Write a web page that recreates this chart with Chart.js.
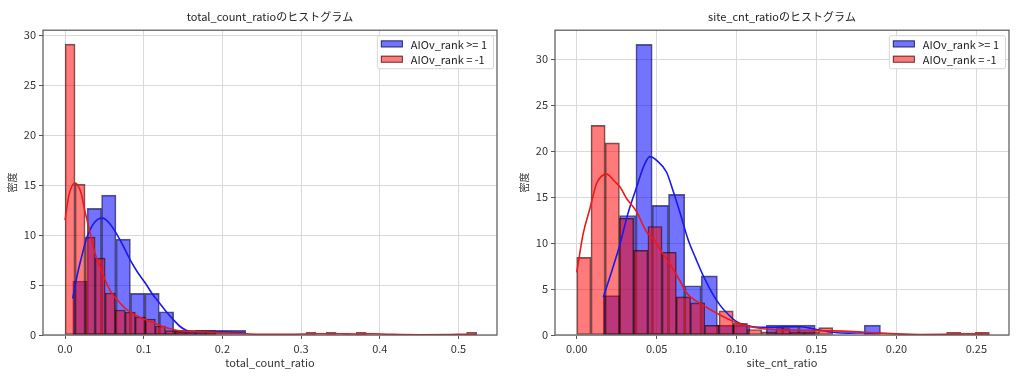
<!DOCTYPE html>
<html><head><meta charset="utf-8">
<script src="https://cdn.jsdelivr.net/npm/chart.js@4"></script>
<style>
html,body{margin:0;padding:0;background:#fff;}
#wrap{position:relative;width:1024px;height:378px;overflow:hidden;}
.c{position:absolute;top:0;width:512px;height:378px;}
</style></head><body>
<div id="wrap">
<div class="c" style="left:0"><canvas id="c1" width="512" height="378"></canvas></div>
<div class="c" style="left:512px"><canvas id="c2" width="512" height="378"></canvas></div>
</div>
<script>
const FONT = "'Noto Sans CJK JP', 'Noto Sans', sans-serif";
const seriesLabels = ['AIOv_rank >= 1', 'AIOv_rank = -1'];
const yLabel = '密度';

// ---- Left chart: total_count_ratio ----
const tcTitle = 'total_count_ratioのヒストグラム';
const tcXLabel = 'total_count_ratio';
const tcXTicks = [0.0, 0.1, 0.2, 0.3, 0.4, 0.5];
const tcYTicks = [0, 5, 10, 15, 20, 25, 30];
const tcBlueStart = 0.0098, tcBlueWidth = 0.01833;
const tcBlueDensity = [5.4, 12.67, 14.0, 9.6, 4.17, 4.17, 2.33, 0.47, 0.47, 0.47, 0.47, 0.47];
const tcRedStart = 0.0, tcRedWidth = 0.01276;
const tcRedDensity = [29.1, 15.1, 9.8, 7.7, 4.2, 2.5, 2.3, 1.8, 1.6, 0.9, 0.44, 0.33, 0.33, 0.44, 0.44,
  0, 0, 0, 0, 0, 0, 0, 0, 0, 0.26, 0, 0.26, 0, 0, 0.26, 0, 0, 0, 0, 0, 0, 0, 0, 0, 0, 0.26];
const tcBlueKdeX = [0.0098, 0.015, 0.02, 0.028, 0.035, 0.042, 0.048, 0.055, 0.065, 0.074, 0.083, 0.092, 0.102, 0.111, 0.12, 0.129, 0.138, 0.147, 0.157, 0.17, 0.185, 0.2, 0.215, 0.23];
const tcBlueKdeY = [3.67, 5.8, 7.5, 9.8, 11.0, 11.6, 11.7, 11.3, 10.2, 8.9, 7.5, 6.3, 5.2, 4.1, 3.2, 2.3, 1.5, 0.8, 0.38, 0.25, 0.3, 0.32, 0.25, 0.18];
const tcRedKdeX = [0, 0.005, 0.0127, 0.02, 0.025, 0.032, 0.038, 0.045, 0.051, 0.057, 0.063, 0.07, 0.076, 0.089, 0.101, 0.114, 0.127, 0.14, 0.152, 0.165, 0.18, 0.2, 0.23, 0.26, 0.29, 0.32, 0.335, 0.35, 0.37, 0.39, 0.41, 0.45, 0.49, 0.51, 0.523];
const tcRedKdeY = [11.5, 14.0, 15.2, 14.3, 12.5, 10.2, 8.2, 6.7, 5.5, 4.5, 3.8, 3.2, 2.7, 2.0, 1.57, 1.17, 0.77, 0.5, 0.38, 0.33, 0.3, 0.22, 0.12, 0.06, 0.08, 0.12, 0.13, 0.12, 0.1, 0.12, 0.08, 0.03, 0.05, 0.08, 0.08];

// ---- Right chart: site_cnt_ratio ----
const scTitle = 'site_cnt_ratioのヒストグラム';
const scXLabel = 'site_cnt_ratio';
const scXTicks = [0.00, 0.05, 0.10, 0.15, 0.20, 0.25];
const scYTicks = [0, 5, 10, 15, 20, 25, 30];
const scBlueStart = 0.0166, scBlueWidth = 0.0102;
const scBlueDensity = [4.28, 13.0, 31.6, 14.1, 15.3, 5.36, 6.43, 1.07, 1.07, 0, 1.07, 1.07, 1.07, 0, 0, 0, 1.07];
const scRedStart = 0.0, scRedWidth = 0.0089;
const scRedDensity = [8.44, 22.8, 20.9, 12.7, 9.2, 11.8, 9.0, 4.15, 3.5, 1.05, 2.62, 1.27, 0.6, 0.35, 0.7, 0.35, 0.35, 0.8,
  0, 0, 0, 0, 0, 0, 0, 0, 0.3, 0, 0.3];
const scBlueKdeX = [0.0166, 0.022, 0.0271, 0.032, 0.0375, 0.042, 0.0458, 0.05, 0.0562, 0.0604, 0.0646, 0.0698, 0.0745, 0.079, 0.0843, 0.0896, 0.095, 0.1, 0.105, 0.11, 0.12, 0.13, 0.14, 0.15, 0.16, 0.17, 0.18, 0.19];
const scBlueKdeY = [4.1, 7.0, 9.9, 13.2, 16.1, 18.4, 19.4, 19.0, 17.7, 15.6, 13.3, 10.3, 8.3, 6.5, 4.7, 3.25, 2.2, 1.45, 1.1, 0.9, 0.83, 0.88, 0.9, 0.6, 0.3, 0.2, 0.22, 0.2];
const scRedKdeX = [0, 0.004, 0.0083, 0.0125, 0.0187, 0.0237, 0.0271, 0.031, 0.0375, 0.0437, 0.0479, 0.0525, 0.0583, 0.0646, 0.0687, 0.079, 0.0896, 0.1, 0.1104, 0.121, 0.13, 0.14, 0.15, 0.16, 0.17, 0.18, 0.19, 0.2, 0.215, 0.23, 0.24, 0.25, 0.258];
const scRedKdeY = [6.8, 11.0, 13.8, 16.5, 17.5, 16.7, 16.1, 14.9, 13.4, 11.2, 10.5, 9.2, 7.7, 5.9, 4.6, 3.25, 2.17, 1.34, 0.85, 0.6, 0.55, 0.52, 0.48, 0.45, 0.4, 0.3, 0.2, 0.12, 0.06, 0.08, 0.12, 0.12, 0.1];

const BLUE_FILL = 'rgba(0,0,255,0.55)', RED_FILL = 'rgba(255,0,0,0.52)';
const EDGE = 'rgba(0,0,0,0.62)';
const BLUE_LINE = 'rgb(25,25,235)', RED_LINE = 'rgb(235,25,25)';

const framePlugin = {
  id: 'frame',
  afterDatasetsDraw(chart) {
    const a = chart.chartArea, ctx = chart.ctx;
    ctx.save();
    ctx.strokeStyle = '#555';
    ctx.lineWidth = 1.2;
    ctx.strokeRect(a.left, a.top, a.right - a.left, a.bottom - a.top);
    ctx.restore();
  }
};

const legendPlugin = {
  id: 'insideLegend',
  afterDraw(chart) {
    const ctx = chart.ctx, a = chart.chartArea;
    const items = chart.data.datasets.filter(d => d.type === 'bar');
    ctx.save();
    ctx.font = '11px ' + FONT;
    const tw = Math.max(...items.map(d => ctx.measureText(d.label).width));
    const patchW = 22, patchH = 7, padL = 4, gap = 8, rowH = 15.3;
    const w = padL + patchW + gap + tw + 6;
    const h = 33;
    const x0 = a.right - 4 - w, y0 = a.top + 5;
    ctx.fillStyle = 'rgba(255,255,255,0.85)';
    ctx.strokeStyle = '#d6d6d6';
    ctx.lineWidth = 1;
    ctx.beginPath();
    ctx.roundRect(x0 + 0.5, y0 + 0.5, w, h, 2);
    ctx.fill();
    ctx.stroke();
    items.forEach((d, i) => {
      const cy = y0 + 8.7 + rowH * i;
      ctx.fillStyle = d.backgroundColor;
      ctx.fillRect(x0 + padL, cy - patchH / 2, patchW, patchH);
      ctx.strokeStyle = d.borderColor;
      ctx.strokeRect(x0 + padL + 0.5, cy - patchH / 2 + 0.5, patchW - 1, patchH - 1);
      ctx.fillStyle = '#222';
      ctx.textBaseline = 'middle';
      ctx.textAlign = 'left';
      ctx.fillText(d.label, x0 + padL + patchW + gap, cy + 0.5);
    });
    ctx.restore();
  }
};

function bins(start, width, vals) {
  return vals.map((v, i) => ({ x: start + (i + 0.5) * width, y: v }));
}
function pts(xs, ys) { return xs.map((x, i) => ({ x, y: ys[i] })); }

function makeChart(id, c) {
  const xs = c.xTicks;
  const step = xs[1] - xs[0];
  const hidden = () => ({ type: 'linear', display: false, min: c.xMin, max: c.xMax, offset: false,
    grid: { display: false, offset: false }, ticks: { display: false } });
  new Chart(document.getElementById(id), {
    type: 'bar',
    data: {
      datasets: [
        { type: 'bar', label: seriesLabels[0], data: bins(c.blueStart, c.blueWidth, c.blueDensity), xAxisID: 'xb', yAxisID: 'y',
          backgroundColor: BLUE_FILL, borderColor: EDGE, borderWidth: 1, borderSkipped: false,
          barPercentage: 1, categoryPercentage: 1, grouped: false, order: 4 },
        { type: 'bar', label: seriesLabels[1], data: bins(c.redStart, c.redWidth, c.redDensity), xAxisID: 'xr', yAxisID: 'y',
          backgroundColor: RED_FILL, borderColor: EDGE, borderWidth: 1, borderSkipped: false,
          barPercentage: 1, categoryPercentage: 1, grouped: false, order: 3 },
        { type: 'line', label: 'kde1', data: pts(c.blueKdeX, c.blueKdeY), xAxisID: 'x', yAxisID: 'y',
          borderColor: BLUE_LINE, borderWidth: 1.6, pointRadius: 0, fill: false, cubicInterpolationMode: 'monotone', order: 2 },
        { type: 'line', label: 'kde2', data: pts(c.redKdeX, c.redKdeY), xAxisID: 'x', yAxisID: 'y',
          borderColor: RED_LINE, borderWidth: 1.6, pointRadius: 0, fill: false, cubicInterpolationMode: 'monotone', order: 1 }
      ]
    },
    options: {
      responsive: false, animation: false, devicePixelRatio: 1,
      layout: { padding: { left: 0, right: 15, top: 0, bottom: 0 } },
      plugins: {
        legend: { display: false },
        tooltip: { enabled: false },
        title: { display: true, text: c.title, fullSize: false, color: '#222',
          font: { family: FONT, size: 11, weight: 'normal' }, padding: { top: 10, bottom: 7 } }
      },
      scales: {
        x: { type: 'linear', position: 'bottom', min: c.xMin, max: c.xMax, offset: false,
          afterBuildTicks: s => { s.ticks = xs.map(v => ({ value: v })); },
          ticks: { stepSize: step, includeBounds: false, color: '#333', padding: 3,
            font: { family: FONT, size: 11 }, callback: v => Number(v).toFixed(c.decimals) },
          grid: { offset: false, color: '#d9d9d9', lineWidth: 1, tickColor: '#555', tickLength: 4 },
          border: { display: false },
          title: { display: true, text: c.xLabel, color: '#333', font: { family: FONT, size: 11 }, padding: { top: 2, bottom: 9 } },
          afterFit: s => { s.height = 43; } },
        xb: hidden(),
        xr: hidden(),
        y: { type: 'linear', min: 0, max: c.yMax,
          afterBuildTicks: s => { s.ticks = c.yTicks.map(v => ({ value: v })); },
          ticks: { stepSize: 5, includeBounds: false, color: '#333', padding: 3, font: { family: FONT, size: 11 } },
          grid: { offset: false, color: '#d9d9d9', lineWidth: 1, tickColor: '#555', tickLength: 4 },
          border: { display: false },
          title: { display: true, text: yLabel, color: '#333', font: { family: FONT, size: 10 }, padding: { top: 6, bottom: 0 } },
          afterFit: s => { s.width = 43; } }
      }
    },
    plugins: [framePlugin, legendPlugin]
  });
}

makeChart('c1', { title: tcTitle, xLabel: tcXLabel, xTicks: tcXTicks, yTicks: tcYTicks, decimals: 1,
  xMin: -0.028, xMax: 0.549, yMax: 30.5,
  blueStart: tcBlueStart, blueWidth: tcBlueWidth, blueDensity: tcBlueDensity,
  redStart: tcRedStart, redWidth: tcRedWidth, redDensity: tcRedDensity,
  blueKdeX: tcBlueKdeX, blueKdeY: tcBlueKdeY, redKdeX: tcRedKdeX, redKdeY: tcRedKdeY });

makeChart('c2', { title: scTitle, xLabel: scXLabel, xTicks: scXTicks, yTicks: scYTicks, decimals: 2,
  xMin: -0.0136, xMax: 0.2704, yMax: 33.15,
  blueStart: scBlueStart, blueWidth: scBlueWidth, blueDensity: scBlueDensity,
  redStart: scRedStart, redWidth: scRedWidth, redDensity: scRedDensity,
  blueKdeX: scBlueKdeX, blueKdeY: scBlueKdeY, redKdeX: scRedKdeX, redKdeY: scRedKdeY });
</script>
</body></html>
